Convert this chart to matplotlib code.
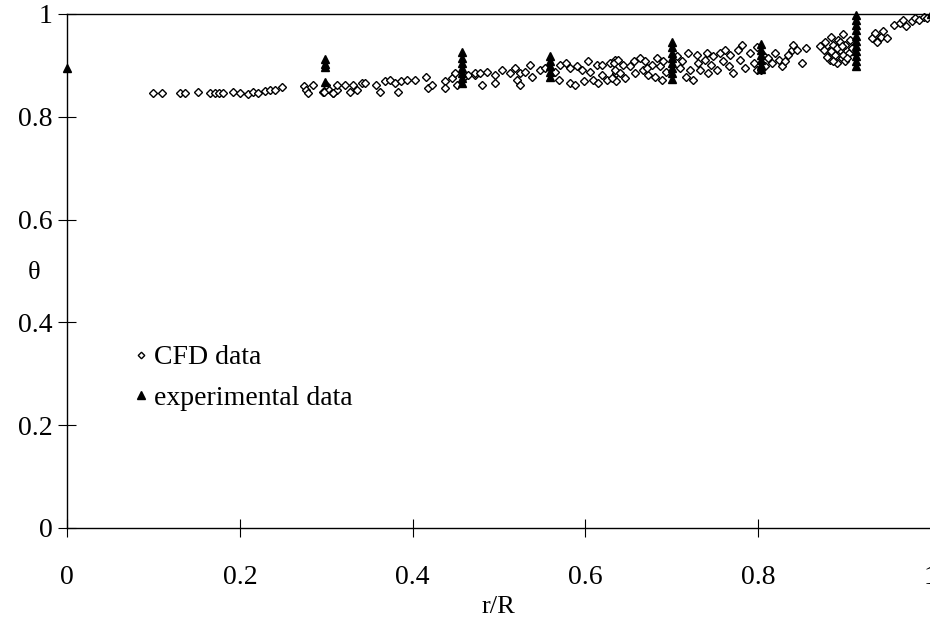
import matplotlib
matplotlib.use('Agg')
import matplotlib.pyplot as plt

# CFD predictions (r/R, theta)
cfd_r = [0.099, 0.110, 0.130, 0.136, 0.151, 0.165, 0.171, 0.176, 0.180, 0.192,
         0.200, 0.209, 0.215, 0.221, 0.229, 0.235, 0.241, 0.249,
         0.274, 0.277, 0.284, 0.279, 0.296, 0.302, 0.308, 0.312,
         0.297, 0.300, 0.308, 0.312, 0.322, 0.327, 0.331, 0.335, 0.341, 0.345,
         0.358, 0.362, 0.368, 0.374, 0.380, 0.383, 0.387, 0.393, 0.403, 0.416,
         0.418, 0.422, 0.437, 0.437, 0.445, 0.449, 0.451, 0.459, 0.464, 0.472,
         0.472, 0.478, 0.486, 0.480, 0.495, 0.495, 0.503, 0.513, 0.519, 0.521,
         0.524, 0.524, 0.530, 0.536, 0.538, 0.548, 0.553, 0.565, 0.569, 0.571,
         0.578, 0.582, 0.582, 0.588, 0.590, 0.596, 0.598, 0.603, 0.605, 0.609,
         0.613, 0.619, 0.619, 0.625, 0.629, 0.634, 0.636, 0.615,
         0.633, 0.634, 0.638, 0.640, 0.644, 0.646, 0.652, 0.656, 0.658, 0.663,
         0.667, 0.669, 0.673, 0.677, 0.681, 0.683, 0.686, 0.689, 0.690, 0.694,
         0.706, 0.710, 0.712, 0.719, 0.721, 0.729, 0.731, 0.733, 0.739, 0.741,
         0.742, 0.746, 0.748, 0.752, 0.756, 0.760, 0.762, 0.766, 0.768, 0.771,
         0.777, 0.779, 0.781, 0.785, 0.791, 0.795, 0.799, 0.799, 0.717, 0.725,
         0.636, 0.631, 0.671,
         0.806, 0.808, 0.816, 0.820, 0.824, 0.828, 0.831, 0.835, 0.839, 0.841,
         0.845, 0.851, 0.856, 0.804, 0.812,
         0.872, 0.878, 0.882, 0.883, 0.885, 0.887, 0.889, 0.891, 0.893, 0.895,
         0.897, 0.899, 0.901, 0.901, 0.905, 0.907, 0.909, 0.880, 0.876, 0.895,
         0.891, 0.899, 0.887, 0.903, 0.885, 0.897,
         0.932, 0.936, 0.938, 0.942, 0.945, 0.949, 0.957, 0.964, 0.968, 0.972,
         0.978, 0.982, 0.987, 0.992, 0.996]
cfd_theta = [0.846, 0.846, 0.846, 0.846, 0.848, 0.846, 0.846, 0.847, 0.846, 0.849,
             0.847, 0.845, 0.848, 0.846, 0.850, 0.852, 0.853, 0.858,
             0.859, 0.852, 0.862, 0.847, 0.849, 0.855, 0.846, 0.852,
             0.849, 0.862, 0.846, 0.862, 0.862, 0.849, 0.862, 0.852, 0.866, 0.866,
             0.862, 0.849, 0.869, 0.872, 0.866, 0.849, 0.869, 0.872, 0.872, 0.878,
             0.856, 0.862, 0.869, 0.856, 0.875, 0.885, 0.862, 0.878, 0.882, 0.882,
             0.885, 0.885, 0.888, 0.862, 0.866, 0.882, 0.891, 0.885, 0.895, 0.872,
             0.885, 0.862, 0.888, 0.901, 0.878, 0.891, 0.895, 0.888, 0.872, 0.901,
             0.905, 0.895, 0.866, 0.862, 0.898, 0.891, 0.869, 0.908, 0.888, 0.872,
             0.901, 0.901, 0.882, 0.872, 0.905, 0.911, 0.885, 0.866,
             0.905, 0.891, 0.911, 0.885, 0.901, 0.875, 0.898, 0.908, 0.885, 0.914,
             0.891, 0.908, 0.882, 0.901, 0.878, 0.914, 0.898, 0.872, 0.908, 0.888,
             0.918, 0.895, 0.908, 0.925, 0.891, 0.921, 0.905, 0.891, 0.911, 0.924,
             0.885, 0.901, 0.918, 0.891, 0.924, 0.908, 0.930, 0.898, 0.921, 0.885,
             0.930, 0.911, 0.940, 0.895, 0.925, 0.905, 0.891, 0.936, 0.878, 0.872,
             0.869, 0.875, 0.895,
             0.921, 0.898, 0.905, 0.924, 0.911, 0.898, 0.908, 0.921, 0.930, 0.940,
             0.930, 0.905, 0.934, 0.891, 0.914,
             0.937, 0.946, 0.927, 0.911, 0.956, 0.940, 0.921, 0.905, 0.950, 0.930,
             0.914, 0.961, 0.940, 0.908, 0.924, 0.950, 0.934, 0.917, 0.930, 0.946,
             0.934, 0.921, 0.908, 0.914, 0.927, 0.937,
             0.954, 0.963, 0.946, 0.956, 0.966, 0.954, 0.979, 0.982, 0.989, 0.976,
             0.986, 0.992, 0.989, 0.994, 0.992]

# experimental measurements (r/R, theta)
exp_r = [0.0,
         0.299, 0.299, 0.299, 0.299,
         0.457, 0.457, 0.457, 0.457, 0.457, 0.457, 0.457,
         0.559, 0.559, 0.559, 0.559, 0.559,
         0.700, 0.700, 0.700, 0.700, 0.700, 0.700, 0.700, 0.700,
         0.804, 0.804, 0.804, 0.804, 0.804, 0.804,
         0.914, 0.914, 0.914, 0.914, 0.914, 0.914, 0.914, 0.914, 0.914, 0.914, 0.914,
         1.0]
exp_theta = [0.895,
             0.912, 0.903, 0.896, 0.868,
             0.926, 0.915, 0.905, 0.895, 0.885, 0.875, 0.865,
             0.918, 0.908, 0.898, 0.888, 0.878,
             0.946, 0.935, 0.925, 0.915, 0.905, 0.895, 0.885, 0.873,
             0.941, 0.930, 0.920, 0.910, 0.900, 0.893,
             0.998, 0.988, 0.978, 0.968, 0.958, 0.948, 0.938, 0.928, 0.918, 0.908, 0.898,
             1.0]

x_ticks = [0, 0.2, 0.4, 0.6, 0.8, 1]
x_ticklabels = ['0', '0.2', '0.4', '0.6', '0.8', '1']
y_ticks = [0, 0.2, 0.4, 0.6, 0.8, 1]
y_ticklabels = ['0', '0.2', '0.4', '0.6', '0.8', '1']

plt.rcParams['font.family'] = ['Liberation Serif', 'DejaVu Serif']

fig = plt.figure(figsize=(9.3, 6.21), dpi=100)
ax = fig.add_axes([0.0724, 0.1498, 0.9283, 0.8277])

ax.plot(cfd_r, cfd_theta, linestyle='none', marker='D', markersize=3.9,
        markerfacecolor='white', markeredgecolor='black', markeredgewidth=1.0,
        label='CFD data', clip_on=False)
ax.plot(exp_r, exp_theta, linestyle='none', marker='^', markersize=6,
        color='black', label='experimental data', clip_on=False, zorder=3)

ax.set_xlim(0, 1)
ax.set_ylim(0, 1)
ax.set_xticks(x_ticks)
ax.set_xticklabels(x_ticklabels)
ax.set_yticks(y_ticks)
ax.set_yticklabels(y_ticklabels)
ax.tick_params(axis='x', direction='inout', length=13, width=0.8, pad=20, labelsize=20)
ax.tick_params(axis='y', direction='inout', length=13, width=0.8, pad=4, labelsize=20)

ax.spines['right'].set_visible(False)
for side in ['left', 'bottom', 'top']:
    ax.spines[side].set_linewidth(1.0)

ax.set_xlabel('r/R', fontsize=19)
ax.xaxis.label.set_va('center')
ax.xaxis.set_label_coords(0.499, -0.154)
ax.set_ylabel('θ', fontsize=19, rotation=0)
ax.yaxis.label.set_va('center')
ax.yaxis.label.set_ha('center')
ax.yaxis.set_label_coords(-0.0386, 0.496)

leg = ax.legend(loc='upper left', bbox_to_anchor=(0.081, 0.356), frameon=False,
                fontsize=20, handlelength=0.3, handletextpad=0.3, labelspacing=0.55,
                borderpad=0, borderaxespad=0, markerscale=0.85)

fig.savefig('out.png', dpi=100)
